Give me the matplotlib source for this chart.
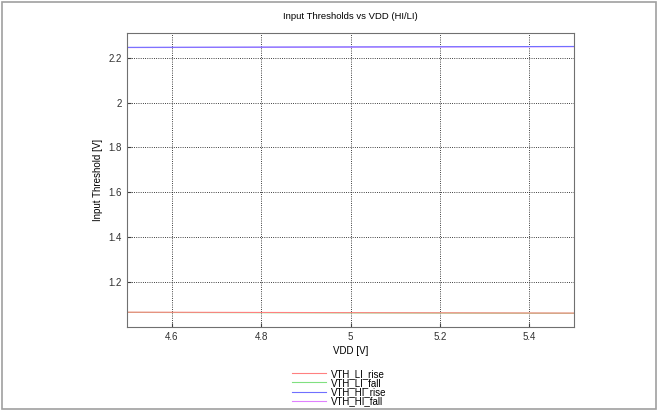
import matplotlib.pyplot as plt
from matplotlib.patches import Rectangle

plt.rcParams['font.family'] = ['Liberation Sans', 'DejaVu Sans']
plt.rcParams['font.size'] = 7

vdd = [4.5, 4.75, 5.0, 5.25, 5.5]
vth_li_rise = [1.066, 1.065, 1.064, 1.063, 1.062]
vth_li_fall = [1.065, 1.064, 1.063, 1.062, 1.061]
vth_hi_rise = [2.246, 2.247, 2.248, 2.249, 2.250]
vth_hi_fall = [2.245, 2.246, 2.247, 2.248, 2.249]

fig = plt.figure(figsize=(6.58, 4.11), dpi=100)
fig.patches.append(Rectangle((0.003, 0.005), 0.994, 0.99, transform=fig.transFigure,
                             fill=False, edgecolor='#a0a0a0', linewidth=1.2))
ax = fig.add_axes([127 / 658, 1 - 327 / 411, 447 / 658, 294 / 411])

ax.plot(vdd, vth_li_fall, color='#80e080', lw=0.8, label='VTH_LI_fall')
ax.plot(vdd, vth_li_rise, color='#ff8080', lw=0.8, label='VTH_LI_rise')
ax.plot(vdd, vth_hi_fall, color='#e080ff', lw=0.8, label='VTH_HI_fall')
ax.plot(vdd, vth_hi_rise, color='#7070ff', lw=0.8, label='VTH_HI_rise')

ax.set_xlim(4.5, 5.5)
ax.set_ylim(1.0, 2.31)
ax.set_xticks([4.6, 4.8, 5.0, 5.2, 5.4])
ax.set_xticklabels(['4.6', '4.8', '5', '5.2', '5.4'])
ax.set_yticks([1.2, 1.4, 1.6, 1.8, 2.0, 2.2])
ax.set_yticklabels(['1.2', '1.4', '1.6', '1.8', '2', '2.2'])
ax.grid(True, color='black', linestyle=':', linewidth=0.6)
ax.tick_params(direction='in', length=3, color='#404040', colors='#303030')
for s in ax.spines.values():
    s.set_color('#707070')

ax.set_xlabel('VDD [V]', labelpad=3)
ax.set_ylabel('Input Threshold [V]')
ax.set_title('Input Thresholds vs VDD (HI/LI)', pad=10, fontsize=6.8)

h, l = ax.get_legend_handles_labels()
order = [1, 0, 3, 2]
fig.legend([h[i] for i in order], [l[i] for i in order], loc='upper center',
           bbox_to_anchor=(0.515, 1 - 364 / 411), frameon=False, handlelength=3.5,
           labelspacing=-0.1, handletextpad=0.5, fontsize=7, borderpad=0)

fig.savefig('out.png', dpi=100)
